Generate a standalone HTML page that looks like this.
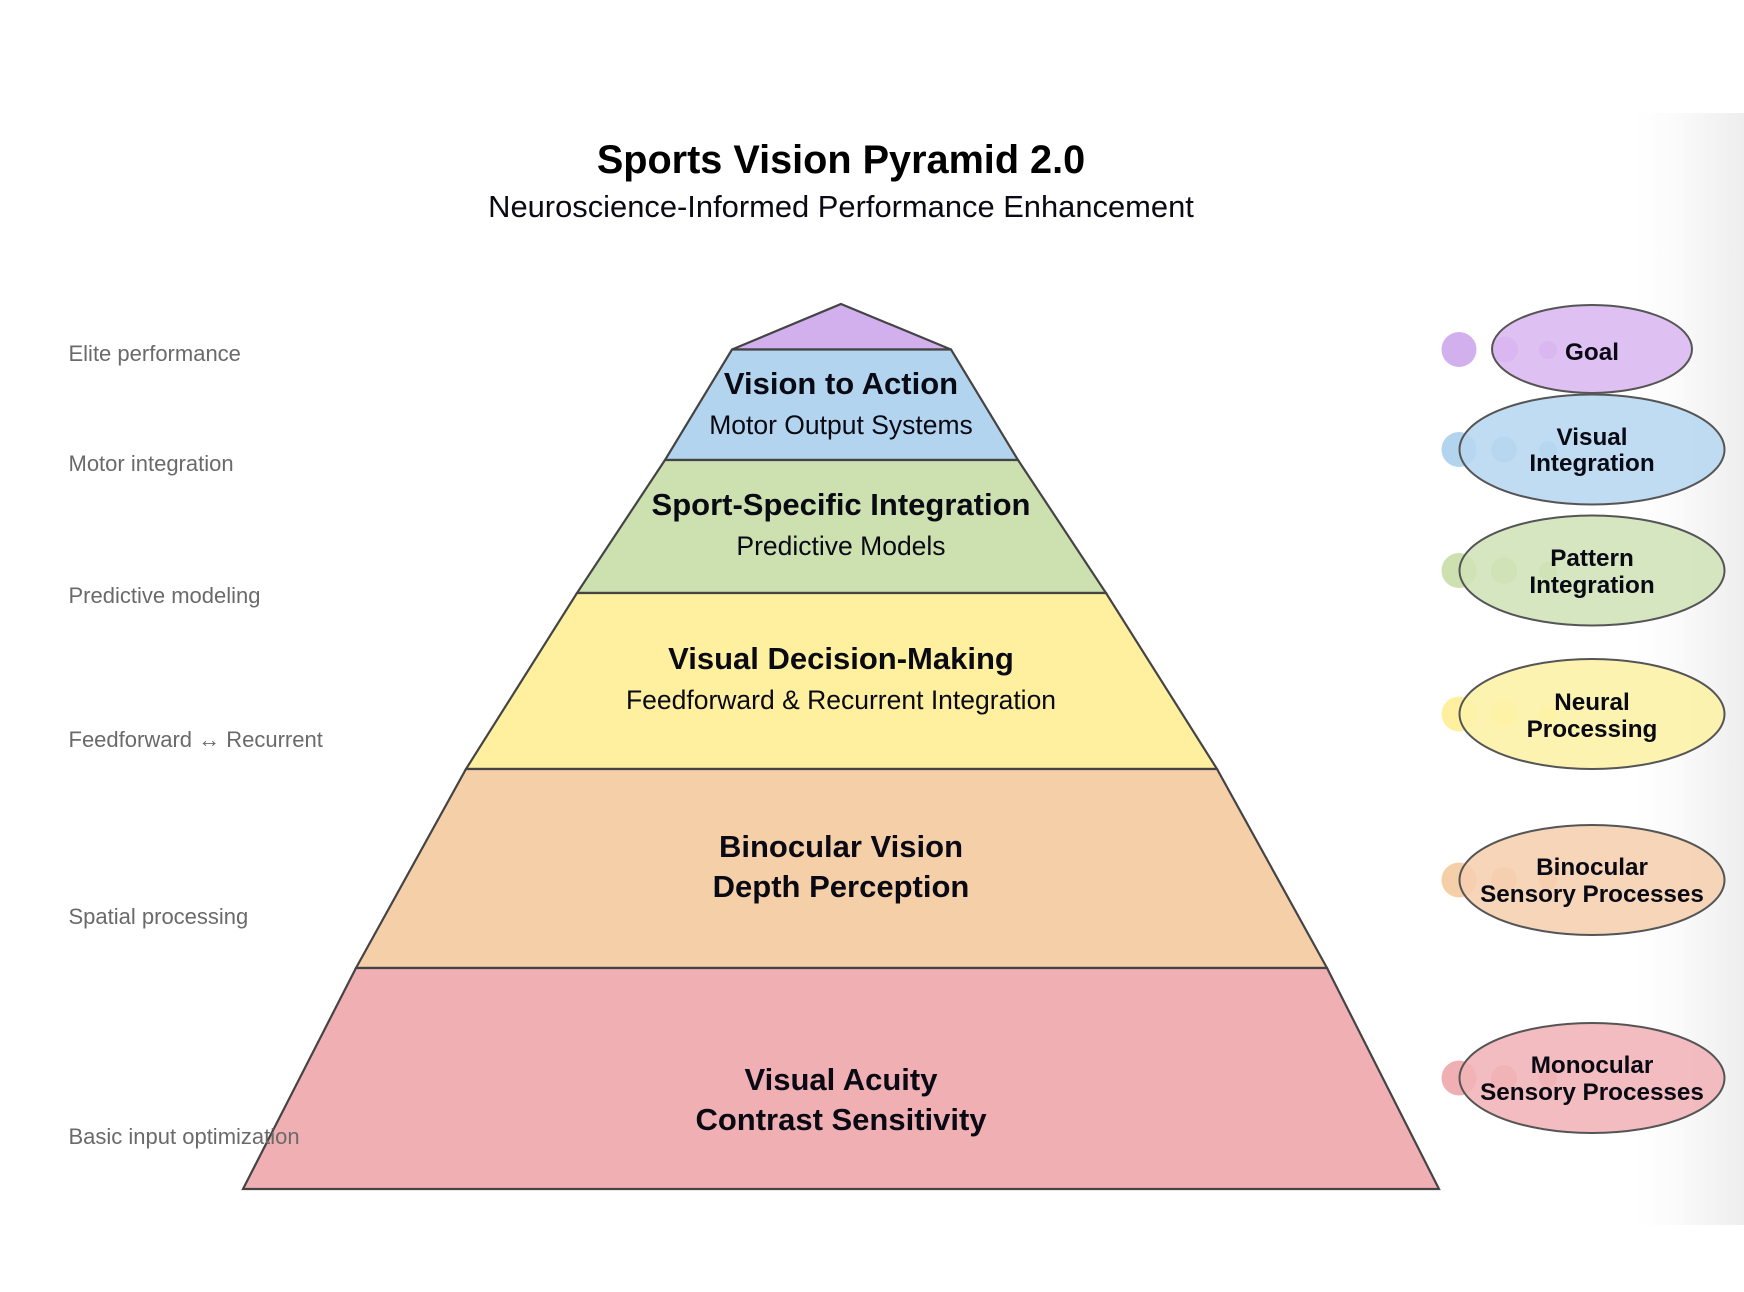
<!DOCTYPE html>
<html><head><meta charset="utf-8"><style>
html,body{margin:0;padding:0;background:#fff;width:1744px;height:1292px;overflow:hidden}
svg{display:block;font-family:"Liberation Sans",Arial,sans-serif;filter:blur(.35px)}
.t{text-anchor:middle;fill:#0a0a14}
.b{font-weight:700;font-size:31px}
.s{font-size:26.5px}
.e{font-weight:700;font-size:24.25px;text-anchor:middle;fill:#0a0a14}
.l{font-size:22px;fill:#6a6a6a}
</style></head><body>
<svg width="1744" height="1292" viewBox="0 0 1744 1292">
<defs><linearGradient id="g" x1="0" x2="1" y1="0" y2="0"><stop offset="0" stop-color="#fff"/><stop offset=".35" stop-color="#fbfbfb"/><stop offset="1" stop-color="#eeeeee"/></linearGradient></defs>
<rect x="1635" y="113" width="109" height="1112" fill="url(#g)"/>
<g stroke="#444" stroke-width="2.2" stroke-linejoin="miter">
<polygon points="841,304 951,349.5 732,349.5" fill="#d2b0ee"/>
<polygon points="732,349.5 951,349.5 1018,460 665,460" fill="#b3d4ee"/>
<polygon points="665,460 1018,460 1106,593 577,593" fill="#cce0b0"/>
<polygon points="577,593 1106,593 1217,769 466,769" fill="#fff0a0"/>
<polygon points="466,769 1217,769 1327,968 356,968" fill="#f5cfa8"/>
<polygon points="356,968 1327,968 1439,1189 243,1189" fill="#f0b0b3"/>
</g>
<g><circle cx="1459" cy="349.5" r="17.5" fill="#d2b0ee"/><circle cx="1505" cy="349.5" r="13" fill="#d2b0ee"/><circle cx="1548" cy="350" r="9" fill="#d2b0ee"/>
<ellipse cx="1592" cy="349" rx="100" ry="44" fill="#dbb7f0" fill-opacity=".88" stroke="#555" stroke-width="2"/></g>
<g><circle cx="1459" cy="449.5" r="17.5" fill="#b3d4ee"/><circle cx="1504" cy="449.5" r="13" fill="#b3d4ee"/><circle cx="1548" cy="450" r="9" fill="#b3d4ee"/>
<ellipse cx="1592" cy="449.5" rx="132.5" ry="55" fill="#b7d7f0" fill-opacity=".88" stroke="#555" stroke-width="2"/></g>
<g><circle cx="1459" cy="570.5" r="17.5" fill="#cce0b0"/><circle cx="1504" cy="570.5" r="13" fill="#cce0b0"/><circle cx="1548" cy="571" r="9" fill="#cce0b0"/>
<ellipse cx="1592" cy="570.5" rx="132.5" ry="55" fill="#cfe3b7" fill-opacity=".88" stroke="#555" stroke-width="2"/></g>
<g><circle cx="1459" cy="714" r="17.5" fill="#fff0a0"/><circle cx="1504" cy="714" r="13" fill="#fff0a0"/><circle cx="1548" cy="714.5" r="9" fill="#fff0a0"/>
<ellipse cx="1592" cy="714" rx="132.5" ry="55" fill="#fdf1a5" fill-opacity=".88" stroke="#555" stroke-width="2"/></g>
<g><circle cx="1459" cy="880" r="17.5" fill="#f5cfa8"/><circle cx="1504" cy="880" r="13" fill="#f5cfa8"/><circle cx="1548" cy="880.5" r="9" fill="#f5cfa8"/>
<ellipse cx="1592" cy="880" rx="132.5" ry="55" fill="#f5cfaf" fill-opacity=".88" stroke="#555" stroke-width="2"/></g>
<g><circle cx="1459" cy="1078" r="17.5" fill="#f0b0b3"/><circle cx="1504" cy="1078" r="13" fill="#f0b0b3"/><circle cx="1548" cy="1078.5" r="9" fill="#f0b0b3"/>
<ellipse cx="1592" cy="1078" rx="132.5" ry="55" fill="#f1b3b7" fill-opacity=".88" stroke="#555" stroke-width="2"/></g>

<text x="841" y="173" class="t" font-weight="700" font-size="39.65" style="fill:#000">Sports Vision Pyramid 2.0</text>
<text x="841" y="217" class="t" font-size="30.9">Neuroscience-Informed Performance Enhancement</text>

<text x="841" y="394" class="t b">Vision to Action</text>
<text x="841" y="434" class="t s">Motor Output Systems</text>
<text x="841" y="515" class="t b">Sport-Specific Integration</text>
<text x="841" y="555" class="t s">Predictive Models</text>
<text x="841" y="669" class="t b">Visual Decision-Making</text>
<text x="841" y="709" class="t s">Feedforward &amp; Recurrent Integration</text>
<text x="841" y="857" class="t b">Binocular Vision</text>
<text x="841" y="897" class="t b">Depth Perception</text>
<text x="841" y="1090" class="t b">Visual Acuity</text>
<text x="841" y="1130" class="t b">Contrast Sensitivity</text>

<text x="1592" y="360" class="e">Goal</text>
<text x="1592" y="445" class="e">Visual</text><text x="1592" y="471" class="e">Integration</text>
<text x="1592" y="566" class="e">Pattern</text><text x="1592" y="593" class="e">Integration</text>
<text x="1592" y="710" class="e">Neural</text><text x="1592" y="737" class="e">Processing</text>
<text x="1592" y="875" class="e">Binocular</text><text x="1592" y="902" class="e">Sensory Processes</text>
<text x="1592" y="1073" class="e">Monocular</text><text x="1592" y="1100" class="e">Sensory Processes</text>

<text x="68.5" y="361" class="l">Elite performance</text>
<text x="68.5" y="471" class="l">Motor integration</text>
<text x="68.5" y="603" class="l">Predictive modeling</text>
<text x="68.5" y="747" class="l">Feedforward ↔ Recurrent</text>
<text x="68.5" y="924" class="l">Spatial processing</text>
<text x="68.5" y="1144" class="l">Basic input optimization</text>
</svg>
</body></html>
